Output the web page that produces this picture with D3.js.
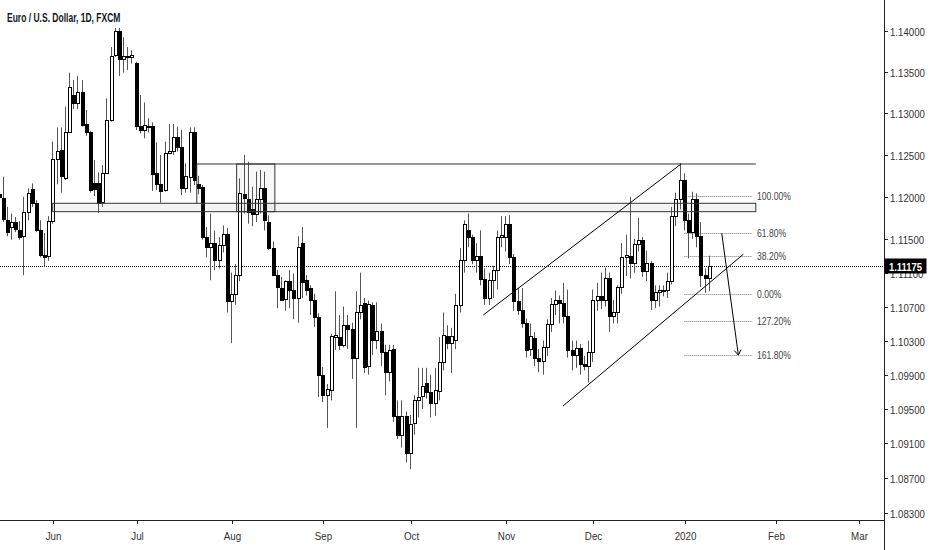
<!DOCTYPE html>
<html><head><meta charset="utf-8">
<script src="https://cdn.jsdelivr.net/npm/d3@7"></script>
<style>
html,body{margin:0;padding:0;background:#fff;}
svg{display:block;}
text{font-family:"Liberation Sans",Arial,sans-serif;}
</style></head><body>
<script>
// ---- data (EUR/USD daily, FXCM) ----
const title = "Euro / U.S. Dollar, 1D, FXCM";
const startDate = "2019-05-15";
const skipDates = ["2020-01-01"];
const open = [
1.1203,1.1199,1.1172,1.1164,1.1170,1.1161,1.1153,1.1182,1.1209,1.1193,1.1161,1.1131,1.1130,
1.1171,1.1245,1.1256,1.1222,1.1277,1.1322,1.1312,1.1326,1.1287,1.1277,1.1217,1.1217,1.1194,1.1229,1.1292,1.1370,1.1399,1.1365,1.1369,1.1368,
1.1361,1.1285,1.1280,1.1285,1.1285,1.1228,1.1215,1.1208,1.1252,1.1255,1.1271,1.1259,1.1211,1.1224,1.1278,1.1215,1.1212,1.1152,1.1140,1.1145,1.1125,1.1143,1.1156,
1.1077,1.1085,1.1107,1.1203,1.1198,1.1186,1.1179,1.1198,1.1211,1.1170,1.1139,1.1107,1.1092,1.1079,1.1100,1.1090,1.1080,1.1145,1.1101,1.1092,1.1078,1.1058,
1.0990,1.0966,1.0972,1.1034,1.1034,1.1025,1.1048,1.1043,1.1010,1.1064,1.1074,1.1000,1.1072,1.1031,1.1041,1.1017,1.0993,1.1020,1.0942,1.0920,1.0942,
1.0899,1.0934,1.0960,1.0965,1.0980,1.0970,1.0957,1.0971,1.1005,1.1035,1.1027,1.1031,1.1072,1.1125,1.1160,1.1152,1.1125,1.1130,1.1103,1.1080,1.1101,1.1113,1.1152,
1.1152,1.1168,1.1128,1.1076,1.1066,1.1051,1.1020,1.1033,1.1009,1.1006,1.1022,1.1049,1.1073,1.1078,1.1074,1.1059,1.1019,1.1013,1.1021,1.1002,1.1000,
1.1017,1.1078,1.1082,1.1078,1.1104,1.1059,1.1064,1.1093,1.1129,1.1130,1.1121,1.1144,1.1149,1.1112,1.1121,1.1078,1.1087,1.1089,1.1090,1.1100,1.1177,1.1198,
1.1220,1.1172,1.1158,1.1197,1.1153,1.1107,1.1104];
const high = [
1.1225,1.1224,1.1188,1.1180,1.1176,1.1171,1.1200,1.1210,1.1216,1.1196,1.1172,1.1157,1.1177,
1.1266,1.1283,1.1283,1.1308,1.1349,1.1340,1.1345,1.1340,1.1304,1.1279,1.1244,1.1229,1.1238,1.1318,1.1380,1.1403,1.1403,1.1392,1.1380,1.1376,
1.1362,1.1322,1.1313,1.1294,1.1289,1.1265,1.1250,1.1266,1.1287,1.1287,1.1284,1.1280,1.1240,1.1283,1.1283,1.1225,1.1214,1.1164,1.1180,1.1160,1.1152,1.1166,1.1163,
1.1110,1.1120,1.1222,1.1250,1.1242,1.1212,1.1230,1.1232,1.1230,1.1178,1.1147,1.1113,1.1105,1.1101,1.1113,1.1109,1.1153,1.1164,1.1107,1.1095,1.1085,1.1062,
1.0999,1.0979,1.1038,1.1088,1.1060,1.1070,1.1060,1.1051,1.1088,1.1110,1.1080,1.1077,1.1075,1.1075,1.1050,1.1025,1.1025,1.1025,1.0960,1.0960,1.0947,
1.0943,1.0966,1.0998,1.0998,1.0998,1.0990,1.0998,1.1034,1.1063,1.1048,1.1045,1.1085,1.1139,1.1172,1.1180,1.1155,1.1145,1.1160,1.1115,1.1110,1.1118,1.1160,1.1177,
1.1177,1.1178,1.1132,1.1092,1.1092,1.1056,1.1050,1.1040,1.1020,1.1030,1.1055,1.1080,1.1089,1.1083,1.1098,1.1090,1.1030,1.1030,1.1026,1.1012,1.1030,
1.1090,1.1098,1.1110,1.1116,1.1110,1.1078,1.1095,1.1145,1.1155,1.1200,1.1150,1.1175,1.1152,1.1136,1.1124,1.1095,1.1095,1.1095,1.1110,1.1188,1.1205,1.1240,
1.1228,1.1180,1.1206,1.1204,1.1170,1.1115,1.1130];
const low = [
1.1178,1.1170,1.1153,1.1149,1.1158,1.1149,1.1107,1.1172,1.1188,1.1158,1.1128,1.1117,1.1124,
1.1168,1.1215,1.1205,1.1220,1.1277,1.1305,1.1305,1.1284,1.1273,1.1205,1.1201,1.1181,1.1188,1.1228,1.1290,1.1368,1.1345,1.1349,1.1352,1.1360,
1.1280,1.1276,1.1270,1.1277,1.1207,1.1208,1.1193,1.1206,1.1251,1.1250,1.1254,1.1202,1.1205,1.1205,1.1214,1.1203,1.1149,1.1128,1.1101,1.1113,1.1115,1.1134,1.1063,
1.1027,1.1072,1.1100,1.1180,1.1168,1.1165,1.1170,1.1180,1.1160,1.1137,1.1106,1.1068,1.1077,1.1065,1.1068,1.1055,1.1051,1.1080,1.1083,1.1060,1.1046,1.0964,
1.0958,1.0928,1.0960,1.1019,1.1019,1.1022,1.1020,1.0985,1.0928,1.1055,1.0992,1.0990,1.1013,1.1020,1.1000,1.0966,1.0982,1.0935,1.0915,1.0905,1.0888,
1.0880,1.0920,1.0940,1.0950,1.0962,1.0940,1.0942,1.0960,1.0995,1.1020,1.0992,1.1020,1.1063,1.1110,1.1140,1.1120,1.1110,1.1095,1.1072,1.1072,1.1080,1.1090,1.1140,
1.1135,1.1120,1.1065,1.1060,1.1045,1.1010,1.1012,1.1000,1.0993,1.0990,1.1012,1.1040,1.1060,1.1050,1.1050,1.1010,1.0995,1.0998,1.0990,1.0995,1.0981,
1.1005,1.1065,1.1067,1.1070,1.1040,1.1050,1.1050,1.1085,1.1106,1.1103,1.1110,1.1135,1.1105,1.1100,1.1066,1.1068,1.1070,1.1082,1.1080,1.1096,1.1165,1.1185,
1.1160,1.1127,1.1150,1.1140,1.1093,1.1086,1.1088];
const close = [
1.1200,1.1174,1.1158,1.1170,1.1162,1.1152,1.1182,1.1204,1.1193,1.1161,1.1131,1.1129,1.1171,
1.1245,1.1255,1.1225,1.1277,1.1332,1.1312,1.1326,1.1286,1.1277,1.1208,1.1209,1.1193,1.1229,1.1292,1.1369,1.1399,1.1365,1.1369,1.1368,1.1370,
1.1285,1.1280,1.1286,1.1283,1.1227,1.1215,1.1207,1.1252,1.1255,1.1271,1.1259,1.1211,1.1225,1.1278,1.1220,1.1210,1.1152,1.1140,1.1145,1.1125,1.1143,1.1156,1.1076,
1.1085,1.1107,1.1204,1.1199,1.1182,1.1179,1.1198,1.1210,1.1172,1.1139,1.1107,1.1093,1.1078,1.1100,1.1090,1.1080,1.1140,1.1099,1.1090,1.1078,1.1058,1.0990,
1.0966,1.0973,1.1035,1.1036,1.1025,1.1048,1.1044,1.1010,1.1064,1.1072,1.0999,1.1073,1.1031,1.1041,1.1017,1.0993,1.1019,1.0942,1.0920,1.0942,1.0899,
1.0933,1.0960,1.0964,1.0977,1.0970,1.0957,1.0972,1.1005,1.1036,1.1027,1.1035,1.1072,1.1125,1.1168,1.1152,1.1125,1.1130,1.1103,1.1080,1.1101,1.1113,1.1152,1.1154,
1.1168,1.1128,1.1076,1.1066,1.1051,1.1019,1.1035,1.1009,1.1006,1.1022,1.1049,1.1073,1.1078,1.1074,1.1059,1.1019,1.1013,1.1021,1.1002,1.1000,1.1017,
1.1078,1.1082,1.1078,1.1104,1.1059,1.1064,1.1093,1.1129,1.1131,1.1121,1.1144,1.1149,1.1112,1.1121,1.1078,1.1087,1.1089,1.1090,1.1100,1.1177,1.1198,1.1220,
1.1172,1.1158,1.1197,1.1153,1.1107,1.1104,1.11175];
const priceTicks = [1.14,1.135,1.13,1.125,1.12,1.115,1.111,1.107,1.103,1.099,1.095,1.091,1.087,1.083];
const lastPrice = 1.11175;
// drawings (bar index, price)
const zoneBand = {from: 12.8, to: 182.1, top: 1.11923, bottom: 1.11823};
const resistLine = {from: 47.5, to: 182.1, price: 1.12392};
const augBox = {from: 57.1, to: 66.3, top: 1.12392, bottom: 1.11823};
const channelUpper = [[116.5, 1.10601], [164.1, 1.12392]];
const channelLower = [[135.7, 1.09535], [179.1, 1.11317]];
const fibHigh = 1.12010, fibLow = 1.10848;
const fibRatios = [1, 0.618, 0.382, 0, -0.272, -0.618];
const fibLabels = ["100.00%", "61.80%", "38.20%", "0.00%", "127.20%", "161.80%"];
const fibFrom = 164.9, fibTo = 181.2;
const arrowFrom = 173.9, arrowTo = 177.9;

// ---- layout ----
const W = 932, H = 550, plotRight = 884, plotBottom = 520;
const svg = d3.select("body").append("svg").attr("width", W).attr("height", H);
svg.append("rect").attr("width", W).attr("height", H).attr("fill", "#fff");

// condensed text helper (reference typeface is narrow)
function ntext(parent, tx, ty, str, size, sx, opts) {
  opts = opts || {};
  const t = parent.append("text")
    .attr("transform", `translate(${tx},${ty}) scale(${sx},1)`)
    .attr("dy", opts.dy || "0.35em")
    .attr("font-size", size)
    .attr("fill", opts.fill || "#333")
    .attr("text-anchor", opts.anchor || "start")
    .text(str);
  if (opts.bold) t.attr("font-weight", "bold");
  return t;
}

// trading days
const dates = [];
(function(){
  const d = new Date(startDate + "T00:00:00Z");
  const end = Date.UTC(2020, 2, 31);
  while (d.getTime() <= end) {
    const wd = d.getUTCDay(), iso = d.toISOString().slice(0,10);
    if (wd !== 0 && wd !== 6 && !skipDates.includes(iso)) dates.push(new Date(d.getTime()));
    d.setUTCDate(d.getUTCDate() + 1);
  }
})();
const N = open.length;
const x = d3.scaleLinear().domain([0, N - 1]).range([-0.5, 709.7]);
const y = d3.scaleLog().domain([1.083, 1.14]).range([512.5, 30.5]);

svg.append("clipPath").attr("id", "plot").append("rect")
  .attr("x", 0).attr("y", 0).attr("width", plotRight).attr("height", plotBottom);
const plot = svg.append("g").attr("clip-path", "url(#plot)");

// last price dotted line
const yl = Math.round(y(lastPrice)) + 0.5;
plot.append("line").attr("x1", 0).attr("x2", plotRight).attr("y1", yl).attr("y2", yl)
  .attr("stroke", "#000").attr("stroke-width", 1).attr("stroke-dasharray", "1,1");

// fib lines (beneath candles)
const fibPrice = r => fibLow + r * (fibHigh - fibLow);
fibRatios.forEach((r, k) => {
  const yy = Math.round(y(fibPrice(r))) + 0.5;
  plot.append("line").attr("x1", x(fibFrom)).attr("x2", x(fibTo)).attr("y1", yy).attr("y2", yy)
    .attr("stroke", "#777").attr("stroke-dasharray", "1,1");
  ntext(svg, x(fibTo) + 5, yy, fibLabels[k], 11, 0.78, {fill: "#444"});
});

// candles
const bars = d3.range(N).map(i => ({i, o: open[i], h: high[i], l: low[i], c: close[i]}));
const cg = plot.append("g");
bars.forEach(b => {
  const cx = Math.round(x(b.i));
  cg.append("line").attr("x1", cx - 0.5).attr("x2", cx - 0.5)
    .attr("y1", y(b.h)).attr("y2", y(b.l)).attr("stroke", "#555").attr("stroke-width", 1);
  const top = Math.round(y(Math.max(b.o, b.c))), bot = Math.round(y(Math.min(b.o, b.c)));
  cg.append("rect").attr("x", cx - 1.5).attr("y", top + 0.5)
    .attr("width", 3).attr("height", Math.max(bot - top, 1))
    .attr("fill", b.c >= b.o ? "#fff" : "#000").attr("stroke", "#000").attr("stroke-width", 1);
});

// drawings
const dg = plot.append("g").attr("fill", "none").attr("stroke", "#333").attr("stroke-width", 1);
dg.append("rect").attr("x", x(zoneBand.from)).attr("y", y(zoneBand.top))
  .attr("width", x(zoneBand.to) - x(zoneBand.from)).attr("height", y(zoneBand.bottom) - y(zoneBand.top))
  .attr("fill", "rgba(120,120,120,0.09)");
dg.append("rect").attr("x", x(augBox.from)).attr("y", y(augBox.top))
  .attr("width", x(augBox.to) - x(augBox.from)).attr("height", y(augBox.bottom) - y(augBox.top))
  .attr("fill", "rgba(120,120,120,0.05)");
dg.append("path").attr("d", d3.line()([
  [x(resistLine.from), y(zoneBand.top)], [x(resistLine.from), y(resistLine.price)], [x(resistLine.to), y(resistLine.price)]]));
[channelUpper, channelLower].forEach(seg => {
  dg.append("line").attr("x1", x(seg[0][0])).attr("y1", y(seg[0][1]))
    .attr("x2", x(seg[1][0])).attr("y2", y(seg[1][1])).attr("stroke", "#000");
});
// arrow
const ax1 = x(arrowFrom), ay1 = y(fibPrice(0.618)), ax2 = x(arrowTo), ay2 = y(fibPrice(-0.618));
dg.append("line").attr("x1", ax1).attr("y1", ay1).attr("x2", ax2).attr("y2", ay2).attr("stroke", "#000");
const ang = Math.atan2(ay2 - ay1, ax2 - ax1);
[-0.6, 0.6].forEach(da => {
  dg.append("line").attr("x1", ax2).attr("y1", ay2)
    .attr("x2", ax2 - 6 * Math.cos(ang + da)).attr("y2", ay2 - 6 * Math.sin(ang + da)).attr("stroke", "#000");
});

// axes
svg.append("line").attr("x1", plotRight + 0.5).attr("x2", plotRight + 0.5).attr("y1", 0).attr("y2", H)
  .attr("stroke", "#222");
svg.append("line").attr("x1", 0).attr("x2", plotRight).attr("y1", plotBottom + 0.5).attr("y2", plotBottom + 0.5)
  .attr("stroke", "#222");
const fmt = d3.format(".5f");
priceTicks.forEach(p => {
  const yy = Math.round(y(p)) + 0.5;
  svg.append("line").attr("x1", plotRight).attr("x2", plotRight + 4).attr("y1", yy).attr("y2", yy).attr("stroke", "#222");
  ntext(svg, plotRight + 6, yy, fmt(p), 11.5, 0.84, {fill: "#333"});
});
// last price label
svg.append("rect").attr("x", plotRight + 0.5).attr("y", yl - 8).attr("width", 42).attr("height", 15).attr("fill", "#000");
ntext(svg, plotRight + 5, yl, fmt(lastPrice), 11.5, 0.82, {fill: "#fff", bold: true});

// time axis
const monthFmt = d3.utcFormat("%b"), yearFmt = d3.utcFormat("%Y");
dates.forEach((d, i) => {
  if (i === 0 || d.getUTCMonth() === dates[i - 1].getUTCMonth()) return;
  const xx = Math.round(x(i)) + 0.5;
  if (xx > plotRight - 5) return;
  svg.append("line").attr("x1", xx).attr("x2", xx).attr("y1", plotBottom).attr("y2", plotBottom + 4).attr("stroke", "#222");
  ntext(svg, xx, plotBottom + 16, d.getUTCMonth() === 0 ? yearFmt(d) : monthFmt(d), 11.5, 0.85, {anchor: "middle", fill: "#333"});
});

// title
ntext(svg, 7, 17, title, 13.2, 0.645, {fill: "#131722", bold: true});
</script>
</body></html>
